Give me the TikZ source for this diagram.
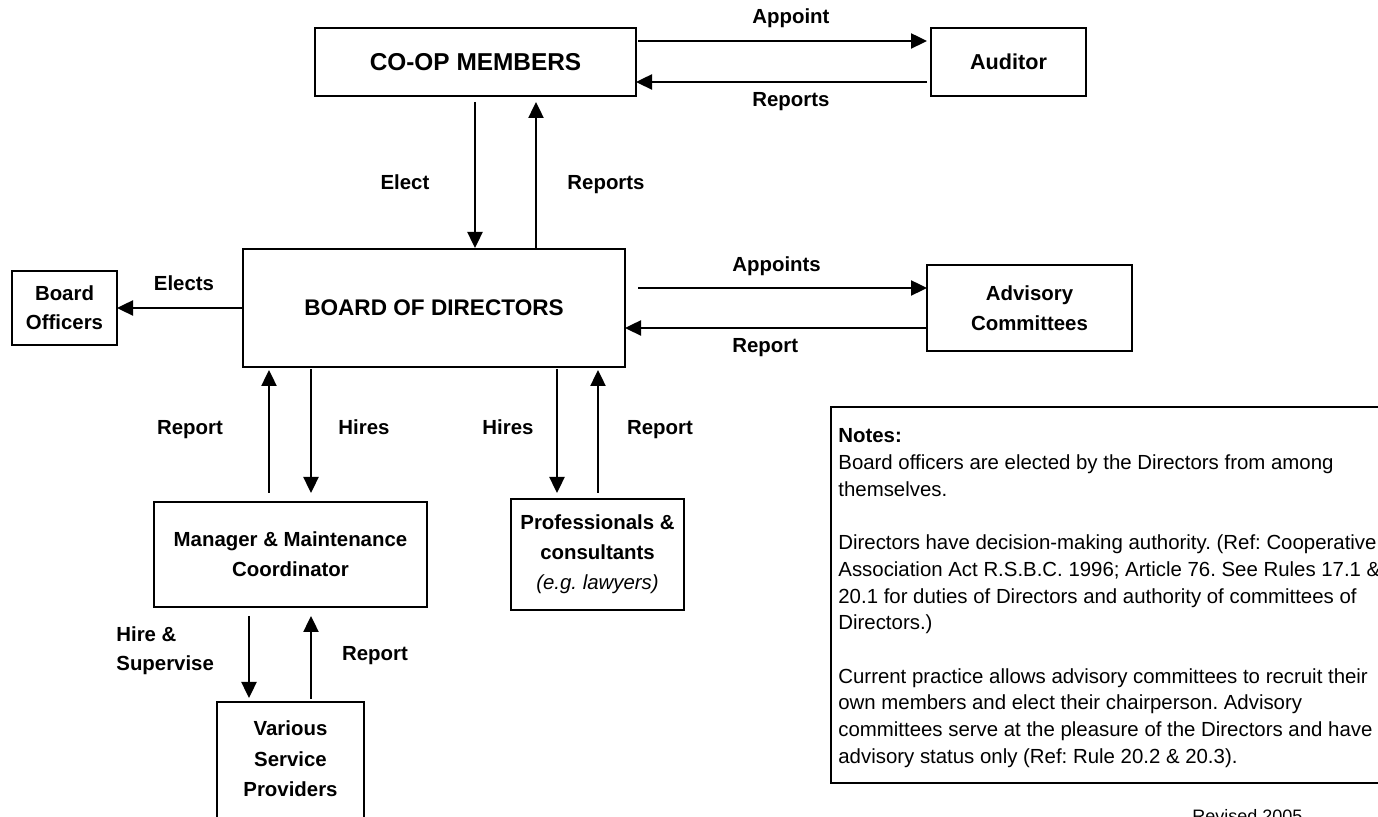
\documentclass[tikz,border=0pt]{standalone}
\usepackage{fontspec}
\setmainfont{Liberation Sans}
\usetikzlibrary{arrows.meta,calc}
\frenchspacing
\begin{document}
\begin{tikzpicture}[x=0.5pt,y=-0.5pt,
  box/.style={draw, line width=1pt, inner sep=0pt, outer sep=0pt, align=center,
    font=\fontsize{10.2}{15}\selectfont\bfseries},
  lab/.style={inner sep=0pt, font=\fontsize{10.2}{14.5}\selectfont\bfseries},
  arr/.style={line width=1.2pt, -{Triangle[length=8pt,width=7.5pt]}},
  note/.style={inner sep=0pt, anchor=base west, font=\fontsize{10.2}{13.35}\selectfont}]
\useasboundingbox[fill=white] (0,0) rectangle (1378,817);

% boxes
\node[box, minimum width=160.5pt, minimum height=34pt, font=\fontsize{12.2}{15}\selectfont\bfseries] (coop) at (475.5,62) {CO-OP MEMBERS};
\node[box, minimum width=77.5pt, minimum height=34pt, font=\fontsize{10.8}{15}\selectfont\bfseries] (auditor) at (1008.5,62) {Auditor};
\node[box, minimum width=191pt, minimum height=59pt, font=\fontsize{11.3}{15}\selectfont\bfseries] (board) at (434,308) {BOARD OF DIRECTORS};
\node[box, minimum width=52.5pt, minimum height=37pt, font=\fontsize{10.2}{14.5}\selectfont\bfseries] (officers) at (64.5,308) {Board\\Officers};
\node[box, minimum width=102.5pt, minimum height=43pt] (advisory) at (1029.5,308) {Advisory\\Committees};
\node[box, minimum width=136.5pt, minimum height=52.5pt] (manager) at (290.5,554.5) {Manager \& Maintenance\\Coordinator};
\node[box, minimum width=86.5pt, minimum height=55.5pt] (prof) at (597.5,554.5) {Professionals \&\\consultants\\{\mdseries\itshape (e.g. lawyers)}};
\node[box, minimum width=73.5pt, minimum height=60pt, anchor=north] (various) at (290.5,702) {};
\node[lab, align=center, font=\fontsize{10.2}{15.25}\selectfont\bfseries] (varioustext) at (290.5,759) {Various\\Service\\Providers};
\node[draw, line width=1pt, minimum width=284.5pt, minimum height=188pt, inner sep=0pt, outer sep=0pt] (notes) at (1115.5,595) {};

% notes text
\node[note, font=\fontsize{10.2}{13.35}\selectfont\bfseries] (n0) at (838,443) {Notes:};
\node[note] (n1) at (838,469.7) {Board officers are elected by the Directors from among};
\node[note] (n2) at (838,496.4) {themselves.};
\node[note] (n4) at (838,549.8) {Directors have decision-making authority. (Ref: Cooperative};
\node[note] (n5) at (838,576.5) {Association Act R.S.B.C. 1996; Article 76. See Rules 17.1 \&};
\node[note] (n6) at (838,603.2) {20.1 for duties of Directors and authority of committees of};
\node[note] (n7) at (838,629.9) {Directors.)};
\node[note] (n9) at (838,683.3) {Current practice allows advisory committees to recruit their};
\node[note] (n10) at (838,710) {own members and elect their chairperson. Advisory};
\node[note] (n11) at (838,736.7) {committees serve at the pleasure of the Directors and have};
\node[note] (n12) at (838,763.4) {advisory status only (Ref: Rule 20.2 \& 20.3).};
\node[note, font=\fontsize{9}{11}\selectfont] (revised) at (1192,823) {Revised 2005};

% labels
\node[lab, anchor=base west] (lAppoint) at (752,24) {Appoint};
\node[lab, anchor=base west] (lReports1) at (752,107) {Reports};
\node[lab, anchor=base] (lElect) at (405,190) {Elect};
\node[lab, anchor=base] (lReports2) at (606,190) {Reports};
\node[lab, anchor=base] (lElects) at (184,291) {Elects};
\node[lab, anchor=base west] (lAppoints) at (732,272) {Appoints};
\node[lab, anchor=base west] (lReport1) at (732,353) {Report};
\node[lab, anchor=base] (lReport2) at (190,435) {Report};
\node[lab, anchor=base] (lHires1) at (364,435) {Hires};
\node[lab, anchor=base] (lHires2) at (508,435) {Hires};
\node[lab, anchor=base] (lReport3) at (660,435) {Report};
\node[lab, anchor=west, align=left] (lHire) at (116,651) {Hire \&\\Supervise};
\node[lab, anchor=base] (lReport4) at (375,661) {Report};

% connectors
\draw[arr] ($(coop.north east)+(2,13)$) -- ($(auditor.north west)+(-4,13)$);
\draw[arr] ($(auditor.north west)+(-4,54)$) -- ($(coop.north east)+(0,54)$);
\draw[arr] ($(coop.south west)+(160,6)$) -- ($(board.north west)+(232,-1)$);
\draw[arr] ($(board.north west)+(293,0)$) -- ($(coop.south west)+(221,6)$);
\draw[arr] (board.west) -- (officers.east);
\draw[arr] ($(board.north east)+(13,39)$) -- ($(advisory.north west)+(0,23)$);
\draw[arr] ($(advisory.north west)+(0,63)$) -- ($(board.north east)+(0,79)$);
\draw[arr] ($(manager.north west)+(115,-9)$) -- ($(board.south west)+(26,3)$);
\draw[arr] ($(board.south west)+(68,2)$) -- ($(manager.north west)+(157,-9)$);
\draw[arr] ($(board.south west)+(314,2)$) -- ($(prof.north west)+(46,-6)$);
\draw[arr] ($(prof.north west)+(87,-6)$) -- ($(board.south west)+(355,3)$);
\draw[arr] ($(manager.south west)+(95,9)$) -- ($(various.north west)+(32,-4)$);
\draw[arr] ($(various.north west)+(94,-3)$) -- ($(manager.south west)+(157,9)$);
\end{tikzpicture}
\end{document}
